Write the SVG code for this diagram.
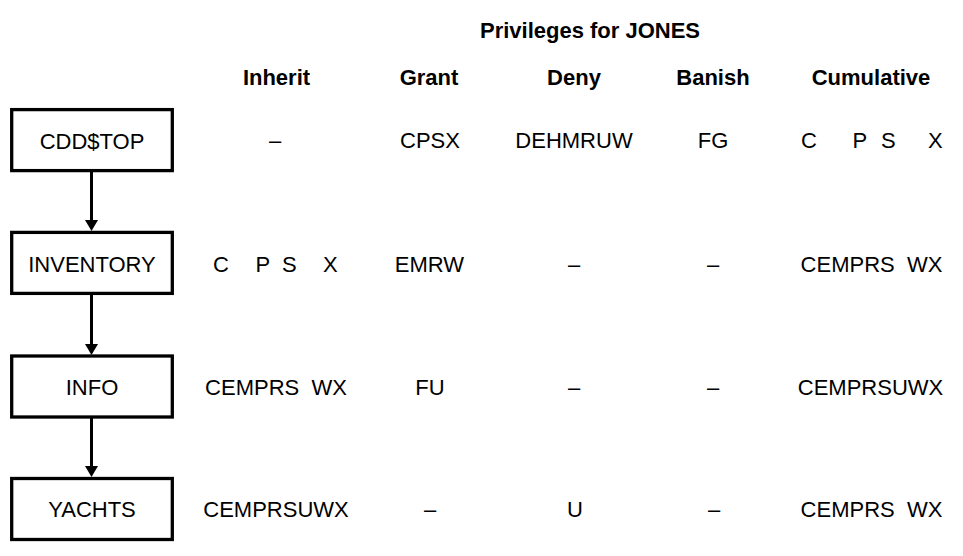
<svg xmlns="http://www.w3.org/2000/svg" width="963" height="556" viewBox="0 0 963 556">
<style>
.box{fill:#fff;stroke:#000;stroke-width:3.3}
.t{font-family:"Liberation Sans",Arial,sans-serif;font-size:22px;fill:#000;text-anchor:middle}
.h{font-family:"Liberation Sans",Arial,sans-serif;font-size:22px;font-weight:bold;fill:#000;text-anchor:middle}
.s{text-anchor:start}
.conn{stroke:#000;stroke-width:3;fill:none}
.head{fill:#000;stroke:none}
</style>
<rect width="963" height="556" fill="#fff"/>
<g id="connectors">
<line class="conn" x1="91.5" y1="171" x2="91.5" y2="222"/>
<polygon class="head" points="85,220 98,220 91.5,231"/>
<line class="conn" x1="91.5" y1="294" x2="91.5" y2="346"/>
<polygon class="head" points="85,344 98,344 91.5,355"/>
<line class="conn" x1="91.5" y1="417" x2="91.5" y2="468"/>
<polygon class="head" points="85,466 98,466 91.5,477"/>
</g>
<g id="node-cddtop"><rect class="box" x="11.7" y="109.6" width="160.6" height="61"/><text class="t" x="92" y="148.5">CDD$TOP</text></g>
<g id="node-inventory"><rect class="box" x="11.7" y="232.4" width="160.6" height="61"/><text class="t" x="92" y="271.5">INVENTORY</text></g>
<g id="node-info"><rect class="box" x="11.7" y="356" width="160.6" height="61"/><text class="t" x="92" y="394.5">INFO</text></g>
<g id="node-yachts"><rect class="box" x="11.7" y="478.5" width="160.6" height="61"/><text class="t" x="92" y="517.3">YACHTS</text></g>
<g id="headers">
<text class="h" x="590" y="38">Privileges for JONES</text>
<text class="h" x="276.5" y="85">Inherit</text>
<text class="h" x="429" y="85">Grant</text>
<text class="h" x="574" y="85">Deny</text>
<text class="h" x="713" y="85">Banish</text>
<text class="h" x="871" y="85">Cumulative</text>
</g>
<g id="row1">
<text class="t" x="275" y="148.3">–</text>
<text class="t" x="430" y="148.3">CPSX</text>
<text class="t" x="574" y="148.3">DEHMRUW</text>
<text class="t" x="713" y="148.3">FG</text>
<text class="t s" y="148.3"><tspan x="801">C</tspan><tspan x="852.5">P</tspan><tspan x="881">S</tspan><tspan x="928">X</tspan></text>
</g>
<g id="row2">
<text class="t s" y="271.5"><tspan x="213">C</tspan><tspan x="255.5">P</tspan><tspan x="282">S</tspan><tspan x="323">X</tspan></text>
<text class="t" x="429.5" y="271.5">EMRW</text>
<text class="t" x="574" y="271.5">–</text>
<text class="t" x="713" y="271.5">–</text>
<text class="t" x="871.5" y="271.5" xml:space="preserve">CEMPRS  WX</text>
</g>
<g id="row3">
<text class="t" x="276" y="394.5" xml:space="preserve">CEMPRS  WX</text>
<text class="t" x="430" y="394.5">FU</text>
<text class="t" x="574" y="394.5">–</text>
<text class="t" x="713" y="394.5">–</text>
<text class="t" x="870.5" y="394.5">CEMPRSUWX</text>
</g>
<g id="row4">
<text class="t" x="276" y="517.3">CEMPRSUWX</text>
<text class="t" x="430" y="517.3">–</text>
<text class="t" x="575" y="517.3">U</text>
<text class="t" x="714" y="517.3">–</text>
<text class="t" x="871.5" y="517.3" xml:space="preserve">CEMPRS  WX</text>
</g>
</svg>
